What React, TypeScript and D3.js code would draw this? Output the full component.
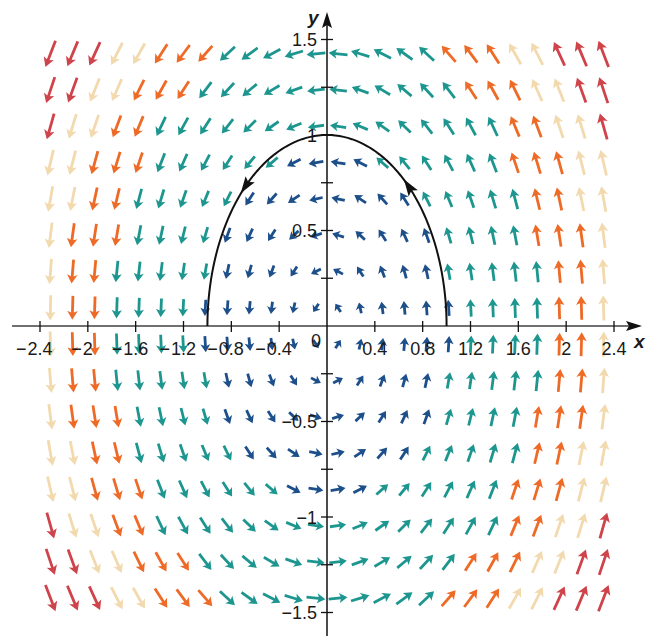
import React from "react";
import * as d3 from "d3";

// Grid of sample points of the vector field F(x, y) = <-y, x>
const xGrid = [
  -2.3125, -2.1275, -1.9425, -1.7575, -1.5725, -1.3875, -1.2025, -1.0175, -0.8325,
  -0.6475, -0.4625, -0.2775, -0.0925, 0.0925, 0.2775, 0.4625, 0.6475, 0.8325,
  1.0175, 1.2025, 1.3875, 1.5725, 1.7575, 1.9425, 2.1275, 2.3125,
];
const yGrid = [
  -1.425, -1.235, -1.045, -0.855, -0.665, -0.475, -0.285, -0.095,
  0.095, 0.285, 0.475, 0.665, 0.855, 1.045, 1.235, 1.425,
];
// colour bins by magnitude
const magThresholds = [1.05, 1.84, 2.21, 2.52];
const binColors = ["#1d4f8a", "#1e9690", "#ee6a27", "#f2d9ae", "#cf434b"];

const xTicks = [-2.4, -2, -1.6, -1.2, -0.8, -0.4, 0.4, 0.8, 1.2, 1.6, 2, 2.4];
const xTickLabels = ["−2.4", "−2", "−1.6", "−1.2", "−0.8", "−0.4", "0.4", "0.8", "1.2", "1.6", "2", "2.4"];
const yTicks = [-1.5, -1.25, -1, -0.75, -0.5, -0.25, 0.25, 0.5, 0.75, 1, 1.25, 1.5];
const yLabelVals = [-1.5, -1, -0.5, 0.5, 1, 1.5];
const yLabelTexts = ["−1.5", "−1", "−0.5", "0.5", "1", "1.5"];

const curveRadius = 1;
const curveArrowAngles = [47, 133]; // degrees

const W = 646;
const H = 636;
const x = d3.scaleLinear().domain([-2.4, 2.4]).range([40, 614]);
const y = d3.scaleLinear().domain([-1.5, 1.5]).range([612.5, 39.5]);

const field = (px: number, py: number) => [-py, px];

const FONT = "'Liberation Sans', Arial, sans-serif";
const FS = 18;

function textWidth(s: string) {
  let w = 0;
  for (const c of s) {
    if (c === ".") w += 0.278;
    else if (c === "−") w += 0.584;
    else w += 0.556;
  }
  return w * FS;
}

function arrowPath(cx: number, cy: number, dx: number, dy: number, L: number) {
  const n = Math.hypot(dx, dy) || 1;
  const ux = dx / n, uy = dy / n;
  const vx = -uy, vy = ux;
  const hl = Math.min(L * 0.62, 6 + 0.12 * L);
  const hw = 4.3 + 0.04 * L;
  const sw = 1.4;
  const tx = cx - (ux * L) / 2, ty = cy - (uy * L) / 2;
  const hx = cx + (ux * L) / 2, hy = cy + (uy * L) / 2;
  const bx = hx - ux * hl, by = hy - uy * hl;
  const nx = bx + ux * hl * 0.18, ny = by + uy * hl * 0.18;
  const pts = [
    [tx + vx * sw, ty + vy * sw],
    [nx + vx * sw, ny + vy * sw],
    [bx + vx * hw, by + vy * hw],
    [hx, hy],
    [bx - vx * hw, by - vy * hw],
    [nx - vx * sw, ny - vy * sw],
    [tx - vx * sw, ty - vy * sw],
  ];
  return "M" + pts.map((p) => p[0].toFixed(2) + "," + p[1].toFixed(2)).join("L") + "Z";
}

export default function App() {
  const arrows: { d: string; c: string }[] = [];
  for (const gy of yGrid) {
    for (const gx of xGrid) {
      const [fx, fy] = field(gx, gy);
      const mag = Math.hypot(fx, fy);
      const cm = Math.sqrt(gx * gx + 1.32 * gy * gy);
      let bin = 0;
      while (bin < magThresholds.length && cm > magThresholds[bin]) bin++;
      const dxp = x(gx + fx) - x(gx);
      const dyp = y(gy + fy) - y(gy);
      const L = 9 + 7 * mag;
      arrows.push({ d: arrowPath(x(gx), y(gy), dxp, dyp, L), c: binColors[bin] });
    }
  }

  const angles = d3.range(0, 181, 2).map((a) => (a * Math.PI) / 180);
  const curveLine = d3
    .line<number>()
    .x((t) => x(curveRadius * Math.cos(t)))
    .y((t) => y(curveRadius * Math.sin(t)));
  const curveD = curveLine(angles) || "";

  const curveHeads = curveArrowAngles.map((deg) => {
    const t = (deg * Math.PI) / 180;
    const cx = x(curveRadius * Math.cos(t));
    const cy = y(curveRadius * Math.sin(t));
    const dx = x(-Math.sin(t)) - x(0);
    const dy = y(Math.cos(t)) - y(0);
    const n = Math.hypot(dx, dy);
    const ux = dx / n, uy = dy / n;
    const vx = -uy, vy = ux;
    const len = 17, hw = 5.5;
    const tip = [cx + ux * len * 0.5, cy + uy * len * 0.5];
    const base = [cx - ux * len * 0.5, cy - uy * len * 0.5];
    const notch = [cx - ux * len * 0.3, cy - uy * len * 0.3];
    return (
      "M" + tip.join(",") +
      "L" + (base[0] + vx * hw) + "," + (base[1] + vy * hw) +
      "L" + notch.join(",") +
      "L" + (base[0] - vx * hw) + "," + (base[1] - vy * hw) + "Z"
    );
  });

  const ox = x(0), oy = y(0);

  return (
    <svg
      width={W}
      height={H}
      style={{ position: "absolute", left: 0, top: 0, background: "#fff" }}
      fontFamily={FONT}
    >
      <g>
        {arrows.map((a, i) => (
          <path key={i} d={a.d} fill={a.c} />
        ))}
      </g>
      {/* x axis */}
      <line x1={12} x2={630} y1={oy} y2={oy} stroke="#707070" strokeWidth={2} />
      <path d={`M642,${oy}L626,${oy - 5}L629,${oy}L626,${oy + 5}Z`} fill="#111" />
      {xTicks.map((t) => (
        <line key={t} x1={x(t)} x2={x(t)} y1={oy - 5} y2={oy + 6} stroke="#111" strokeWidth={1.3} />
      ))}
      {xTicks.map((t, i) => {
        const lbl = xTickLabels[i];
        const neg = lbl.startsWith("−");
        const num = neg ? lbl.slice(1) : lbl;
        const w = textWidth(num);
        return (
          <g key={"xl" + t} fontSize={FS} fill="#1a1a1a">
            <text x={x(t)} y={355} textAnchor="middle">{num}</text>
            {neg && (
              <text x={x(t) - w / 2 - 1} y={355} textAnchor="end">−</text>
            )}
          </g>
        );
      })}
      <text x={321} y={347} textAnchor="end" fontSize={FS} fill="#1a1a1a">0</text>
      <text x={634} y={348} fontSize={19} fontStyle="italic" fontWeight="bold" fill="#1a1a1a">x</text>

      {/* y axis */}
      <line x1={ox} x2={ox} y1={24} y2={636} stroke="#111" strokeWidth={1.5} />
      <path d={`M${ox},12L${ox - 5},28L${ox},25L${ox + 5},28Z`} fill="#111" />
      {yTicks.map((t) => (
        <line key={t} x1={ox - 6} x2={ox + 6} y1={y(t)} y2={y(t)} stroke="#111" strokeWidth={1.3} />
      ))}
      {yLabelVals.map((t, i) => (
        <text key={"yl" + t} x={317} y={y(t) + 6.5} textAnchor="end" fontSize={FS} fill="#1a1a1a">
          {yLabelTexts[i]}
        </text>
      ))}
      <text x={308} y={24} fontSize={19} fontStyle="italic" fontWeight="bold" fill="#1a1a1a">y</text>

      {/* curve */}
      <path d={curveD} fill="none" stroke="#111" strokeWidth={2} />
      {curveHeads.map((d, i) => (
        <path key={"ch" + i} d={d} fill="#111" />
      ))}
    </svg>
  );
}
